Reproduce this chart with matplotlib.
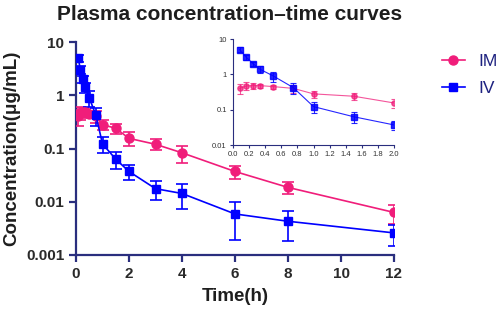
import matplotlib
matplotlib.use("Agg")
import matplotlib.pyplot as plt
from matplotlib.lines import Line2D
import numpy as np

time = [0.083, 0.167, 0.25, 0.333, 0.5, 0.75, 1, 1.5, 2, 3, 4, 6, 8, 12]
im_mean = [0.40, 0.47, 0.48, 0.48, 0.45, 0.40, 0.28, 0.24, 0.155, 0.12, 0.083, 0.037, 0.0186, 0.0063]
im_sd = [0.13, 0.12, 0.10, 0.07, 0.06, 0.10, 0.06, 0.05, 0.045, 0.028, 0.03, 0.01, 0.0045, 0.0025]
iv_mean = [5.0, 3.0, 2.0, 1.4, 0.9, 0.42, 0.122, 0.063, 0.037, 0.0176, 0.0143, 0.0059, 0.0043, 0.0026]
iv_sd = [0.8, 0.5, 0.3, 0.3, 0.3, 0.15, 0.04, 0.022, 0.011, 0.007, 0.007, 0.004, 0.0025, 0.0011]
xticks_main = [0, 2, 4, 6, 8, 10, 12]
xticks_inset = [0.0, 0.2, 0.4, 0.6, 0.8, 1.0, 1.2, 1.4, 1.6, 1.8, 2.0]
yticks = [0.001, 0.01, 0.1, 1, 10]
ytick_labels = ["0.001", "0.01", "0.1", "1", "10"]
inset_ytick_labels = ["0.01", "0.1", "1", "10"]
series_labels = ["IM", "IV"]

PINK = "#F01D7A"
BLUE = "#0000FF"
NAVY = "#2A2E7E"
TXT = "#1E1E1E"

plt.rcParams['font.family'] = ['Liberation Sans', 'DejaVu Sans']

fig = plt.figure(figsize=(4.98, 3.12), dpi=100)
ax = fig.add_axes([76/498, 1-255/312, 318/498, 213/312])

ax.errorbar(time, im_mean, yerr=im_sd, color=PINK, marker='o', ms=6.5, lw=1.2,
            elinewidth=1.2, capsize=4, capthick=1.2, zorder=3)
ax.errorbar(time, iv_mean, yerr=iv_sd, color=BLUE, marker='s', ms=6, lw=1.2,
            elinewidth=1.2, capsize=4, capthick=1.2, zorder=3)
ax.set_yscale('log')
ax.set_xlim(0, 12)
ax.set_ylim(0.001, 10)
ax.set_xticks(xticks_main)
ax.set_xticklabels([str(t) for t in xticks_main])
ax.set_yticks(yticks)
ax.set_yticklabels(ytick_labels)
ax.minorticks_off()
for s in ['top', 'right']:
    ax.spines[s].set_visible(False)
for s in ['left', 'bottom']:
    ax.spines[s].set_color(NAVY)
    ax.spines[s].set_linewidth(1.6)
ax.tick_params(axis='both', colors=NAVY, width=1.6, length=5, direction='out',
               labelsize=11, labelcolor='#2a2a2a')
for lab in ax.get_xticklabels() + ax.get_yticklabels():
    lab.set_fontweight('bold')
ax.set_xlabel('Time(h)', fontsize=13.5, fontweight='bold', color=TXT, labelpad=5)
ax.set_ylabel('Concentration(μg/mL)', fontsize=13.5, fontweight='bold', color=TXT, labelpad=4)
fig.text(230/498, 1-14/312, 'Plasma concentration–time curves', fontsize=15,
         fontweight='bold', color=TXT, ha='center', va='center')

# inset
axi = fig.add_axes([233/498, 1-145/312, 161/498, 106/312])
axi.errorbar(time, im_mean, yerr=im_sd, color=PINK, marker='o', ms=3.8, lw=0.8,
             elinewidth=0.8, capsize=2.2, capthick=0.8, alpha=0.75, zorder=3)
axi.errorbar(time, iv_mean, yerr=iv_sd, color=BLUE, marker='s', ms=3.8, lw=0.8,
             elinewidth=0.8, capsize=2.2, capthick=0.8, alpha=0.85, zorder=3)
axi.set_yscale('log')
axi.set_xlim(0, 2)
axi.set_ylim(0.01, 10)
axi.set_xticks(xticks_inset)
axi.set_xticklabels([f"{t:.1f}" for t in xticks_inset])
axi.set_yticks(yticks[1:])
axi.set_yticklabels(inset_ytick_labels)
axi.minorticks_off()
axi.patch.set_alpha(0)
for s in ['top', 'right']:
    axi.spines[s].set_visible(False)
for s in ['left', 'bottom']:
    axi.spines[s].set_color(NAVY)
    axi.spines[s].set_linewidth(0.8)
axi.tick_params(axis='both', colors=NAVY, width=0.8, length=2.5, direction='out',
                labelsize=5.5, labelcolor='#333333', pad=2)

handles = [Line2D([], [], color=PINK, marker='o', ms=6.5, lw=1.2),
           Line2D([], [], color=BLUE, marker='s', ms=6, lw=1.2)]
leg = fig.legend(handles=handles, labels=series_labels, loc='upper left',
                 bbox_to_anchor=(442/498, 1-54/312), frameon=False,
                 fontsize=12.5, handlelength=1.3, labelspacing=0.65,
                 handletextpad=0.8, borderpad=0, borderaxespad=0)
for t in leg.get_texts():
    t.set_color('#1E2280')

fig.savefig('out.png', dpi=100)
